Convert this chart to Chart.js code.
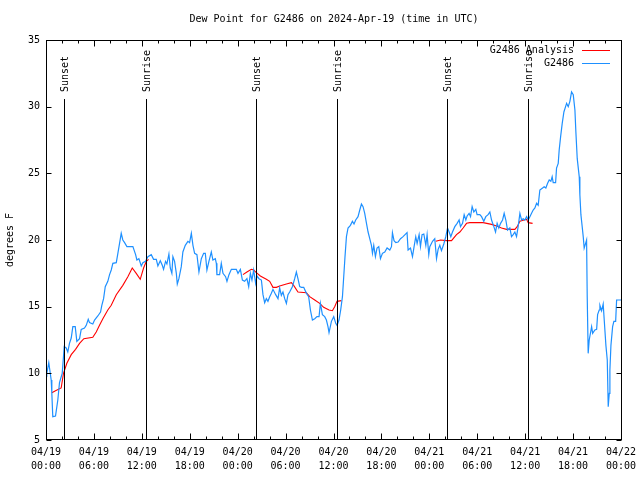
<!DOCTYPE html>
<html><head><meta charset="utf-8">
<script src="https://cdn.jsdelivr.net/npm/chart.js@4.4.1/dist/chart.umd.min.js"></script>
<style>html,body{margin:0;padding:0;background:#fff}</style>
</head><body>
<canvas id="c" width="640" height="480"></canvas>
<script>
// ---- data (hours since 2024-04-19 00:00 UTC) ----
const obsHours = [0.0,0.1,0.35,0.65,0.73,0.85,1.19,1.48,1.69,2.03,2.19,2.28,2.53,2.73,2.94,3.16,3.36,3.66,3.86,4.2,4.41,4.82,5.04,5.29,5.45,5.86,6.08,6.49,6.83,6.99,7.21,7.42,7.74,7.96,8.17,8.37,8.8,9.0,9.21,9.42,9.62,9.84,10.13,10.88,11.22,11.38,11.63,11.93,12.13,12.47,12.76,13.18,13.47,13.81,14.01,14.31,14.56,14.72,14.97,15.14,15.39,15.56,15.76,15.89,16.1,16.32,16.44,16.64,16.94,17.14,17.44,17.77,17.98,18.2,18.4,18.61,18.9,19.15,19.45,19.74,19.95,20.15,20.4,20.7,20.9,21.2,21.33,21.4,21.74,21.95,22.16,22.49,22.66,22.91,23.21,23.83,24.04,24.34,24.59,24.87,25.16,25.38,25.59,25.79,26.0,26.25,26.42,26.67,26.97,27.17,27.38,27.59,27.79,28.01,28.22,28.42,28.76,29.05,29.26,29.47,29.67,29.89,30.1,30.3,30.51,30.85,31.14,31.35,31.55,31.77,31.98,32.27,32.61,32.89,33.11,33.36,33.65,33.93,34.19,34.36,34.61,34.9,35.11,35.31,35.44,35.74,36.03,36.28,36.44,36.69,36.9,37.12,37.28,37.44,37.62,37.82,38.12,38.37,38.57,38.78,39.07,39.29,39.5,39.7,39.91,40.13,40.33,40.54,40.75,40.88,41.04,41.25,41.45,41.67,41.88,42.13,42.42,42.71,43.05,43.26,43.38,43.58,43.8,44.09,44.39,44.71,45.21,45.34,45.64,45.89,46.09,46.3,46.47,46.72,46.89,47.09,47.31,47.56,47.72,47.93,48.06,48.4,48.68,48.9,49.1,49.31,49.52,49.81,50.06,50.28,50.48,50.69,50.9,51.19,51.48,51.73,51.9,52.16,52.36,52.57,52.73,52.98,53.16,53.36,53.57,53.82,53.98,54.32,54.54,54.82,55.07,55.36,55.58,55.79,56.08,56.29,56.49,56.7,56.92,57.17,57.37,57.58,57.79,58.08,58.29,58.5,58.71,58.92,59.12,59.34,59.55,59.75,59.96,60.18,60.38,60.59,60.8,61.0,61.22,61.43,61.63,61.84,62.18,62.38,62.59,62.81,63.01,63.22,63.38,63.51,63.81,63.93,64.14,64.26,64.44,64.64,64.85,65.06,65.19,65.39,65.6,65.81,66.02,66.23,66.35,66.52,66.77,66.85,66.98,67.14,67.27,67.39,67.57,67.69,67.77,67.89,68.02,68.2,68.32,68.45,68.73,68.95,69.07,69.27,69.36,69.57,69.77,69.9,70.11,70.28,70.4,70.53,70.61,70.74,70.95,71.11,71.33,71.45,72.0];
const obsDewPoint = [10.2,10.0,10.8,9.5,8.5,6.75,6.8,8.0,9.3,10.0,11.25,12.0,11.9,11.6,12.25,12.65,13.5,13.5,12.4,12.6,13.3,13.4,13.6,14.05,13.8,13.7,14.0,14.3,14.6,15.1,15.6,16.5,16.9,17.4,17.75,18.25,18.3,19.0,19.75,20.5,20.0,19.8,19.5,19.5,18.9,18.5,18.6,18.05,18.3,18.4,18.75,18.9,18.55,18.55,18.05,18.45,18.1,17.8,18.4,18.2,18.95,17.9,17.5,18.75,18.4,17.5,16.7,17.1,18.0,19.1,19.6,19.9,19.8,20.5,19.6,19.0,18.9,17.6,18.6,19.0,19.0,17.75,18.4,19.1,18.5,18.6,18.25,17.4,17.4,18.25,17.5,17.25,16.9,17.4,17.8,17.8,17.5,17.8,17.0,16.9,17.1,16.5,17.5,17.0,17.75,16.75,17.3,17.1,17.0,15.9,15.3,15.6,15.4,15.75,16.0,16.3,15.9,15.6,16.4,15.85,16.1,15.6,15.25,15.9,16.1,16.5,17.1,17.6,17.1,16.5,16.45,16.45,16.0,15.75,14.75,14.0,14.1,14.25,14.25,15.25,14.4,14.25,14.0,13.5,13.05,13.9,14.25,13.75,13.6,14.0,14.75,15.75,17.25,18.75,20.25,20.9,21.1,21.4,21.2,21.5,21.75,22.25,22.7,22.5,22.0,21.25,20.6,20.1,19.6,19.0,19.6,18.75,19.4,19.5,18.6,19.0,19.1,19.4,19.25,19.5,20.55,19.95,19.8,19.85,20.1,20.25,20.55,19.25,19.4,18.75,19.5,20.25,19.75,20.4,19.5,20.4,20.45,19.6,20.4,18.9,19.5,19.9,20.1,18.6,19.3,19.6,19.2,19.7,20.25,20.9,20.6,20.25,20.6,21.0,21.25,21.5,21.0,21.25,21.9,21.5,21.8,22.0,21.75,22.5,22.1,22.3,21.9,21.9,21.75,21.4,21.75,21.9,22.1,21.5,21.0,20.6,21.25,20.9,21.25,21.5,22.0,21.5,20.75,20.9,20.25,20.4,20.6,20.25,21.0,22.0,21.5,21.6,21.5,21.75,21.5,21.75,22.0,22.25,22.4,22.75,22.6,23.75,23.9,24.0,23.9,24.25,24.5,24.4,24.75,24.3,24.3,25.4,25.75,26.75,27.75,28.75,29.6,30.0,30.25,30.0,30.4,31.1,30.9,29.75,28.1,26.1,24.75,23.4,21.9,21.0,20.25,19.4,19.75,20.0,15.75,11.5,12.5,13.1,13.5,13.0,13.25,13.3,14.4,14.75,15.1,14.7,15.2,14.0,12.1,11.0,7.5,8.5,10.25,12.1,13.5,13.9,13.9,15.5,15.5];
const anaHours = [0.73,1.19,1.9,2.19,2.61,3.16,3.7,4.2,4.74,5.86,6.29,6.7,7.12,7.74,8.17,8.8,9.62,10.25,10.8,11.3,11.8,12.22,12.56,12.84,18.0,24.66,25.16,25.71,26.0,26.34,26.84,27.59,28.01,28.42,28.85,29.26,30.1,30.73,31.01,31.55,32.61,33.02,33.65,34.27,34.77,35.44,35.86,36.15,36.44,36.99,42.0,48.81,49.4,50.15,50.78,51.4,51.82,52.23,52.66,53.07,54.74,55.79,56.42,57.04,57.67,58.71,59.0,59.34,60.18,60.38,60.93];
const anaDewPoint = [8.55,8.7,8.9,10.0,10.75,11.4,11.8,12.25,12.6,12.7,13.1,13.6,14.1,14.75,15.1,15.9,16.6,17.25,17.9,17.5,17.05,17.9,18.4,18.55,null,17.4,17.6,17.8,17.75,17.55,17.3,17.05,16.9,16.45,16.45,16.55,16.7,16.8,16.6,16.1,16.05,15.75,15.5,15.25,14.95,14.75,14.7,15.0,15.4,15.45,null,19.9,20.0,19.95,19.95,20.4,20.6,20.9,21.25,21.3,21.3,21.17,21.05,20.9,20.8,20.8,21.0,21.4,21.55,21.3,21.25];
const eventHours = [2.2, 12.5, 26.3, 36.45, 50.2, 60.35];
const eventLabels = ['Sunset','Sunrise','Sunset','Sunrise','Sunset','Sunrise'];
const xTickDates = ['04/19','04/19','04/19','04/19','04/20','04/20','04/20','04/20','04/21','04/21','04/21','04/21','04/22'];
const xTickTimes = ['00:00','06:00','12:00','18:00','00:00','06:00','12:00','18:00','00:00','06:00','12:00','18:00','00:00'];
const seriesNames = ['G2486 Analysis','G2486'];
const titleText = 'Dew Point for G2486 on 2024-Apr-19 (time in UTC)';
const yTitle = 'degrees F';

const FONT = '10px "DejaVu Sans Mono", "Liberation Mono", monospace';
const BLUE = '#1e90ff', RED = '#ff0000';

const toXY = (xs, ys) => xs.map((h, i) => ({x: h, y: ys[i]}));

const deco = {
  id: 'deco',
  afterDatasetsDraw(chart) {
    const {ctx, chartArea: a, scales: {x, y}} = chart;
    ctx.save();
    ctx.strokeStyle = '#000'; ctx.fillStyle = '#000'; ctx.lineWidth = 1;
    ctx.font = FONT;
    // sunrise / sunset markers
    eventHours.forEach((h, i) => {
      const px = Math.round(x.getPixelForValue(h)) + 0.5;
      ctx.beginPath(); ctx.moveTo(px, 99); ctx.lineTo(px, a.bottom); ctx.stroke();
      ctx.save();
      ctx.translate(px + 0.5, 92); ctx.rotate(-Math.PI / 2);
      ctx.textAlign = 'left'; ctx.textBaseline = 'middle';
      ctx.fillText(eventLabels[i], 0, 0);
      ctx.restore();
    });
    // border
    const L = Math.round(a.left) + 0.5, R = Math.round(a.right) + 0.5;
    const T = Math.round(a.top) + 0.5, B = Math.round(a.bottom) - 0.5;
    ctx.strokeRect(L, T, R - L, B - T);
    // ticks (inward, mirrored)
    ctx.beginPath();
    for (let h = 0; h <= 72; h += 2) {
      const px = Math.round(x.getPixelForValue(h)) + 0.5;
      const len = (h % 6 === 0) ? 6 : 3;
      ctx.moveTo(px, B); ctx.lineTo(px, B - len);
      ctx.moveTo(px, T); ctx.lineTo(px, T + len);
    }
    for (let v = 5; v <= 35; v += 5) {
      const py = Math.round(y.getPixelForValue(v)) + 0.5;
      ctx.moveTo(L, py); ctx.lineTo(L + 5, py);
      ctx.moveTo(R, py); ctx.lineTo(R - 5, py);
    }
    ctx.stroke();
    // title
    ctx.textAlign = 'center'; ctx.textBaseline = 'middle';
    ctx.fillText(titleText, 334, 19);
    // y title
    ctx.save(); ctx.translate(10, 240); ctx.rotate(-Math.PI / 2);
    ctx.fillText(yTitle, 0, 0); ctx.restore();
    // legend
    ctx.textAlign = 'right';
    const cols = [RED, BLUE];
    seriesNames.forEach((n, i) => {
      const ly = 50 + i * 13;
      ctx.fillStyle = '#000';
      ctx.fillText(n, 574, ly);
      ctx.strokeStyle = cols[i];
      ctx.beginPath(); ctx.moveTo(582, ly + 0.5); ctx.lineTo(610, ly + 0.5); ctx.stroke();
    });
    ctx.restore();
  }
};

new Chart(document.getElementById('c'), {
  type: 'line',
  data: {
    datasets: [
      {label: seriesNames[1], data: toXY(obsHours, obsDewPoint), borderColor: BLUE, borderWidth: 1.2, pointRadius: 0, tension: 0, fill: false},
      {label: seriesNames[0], data: toXY(anaHours, anaDewPoint), borderColor: RED, borderWidth: 1.1, pointRadius: 0, tension: 0, fill: false, spanGaps: false}
    ]
  },
  options: {
    responsive: false, animation: false, devicePixelRatio: 1,
    layout: {padding: {top: 40, right: 19, left: 0, bottom: 0}},
    plugins: {legend: {display: false}, title: {display: false}, tooltip: {enabled: false}},
    scales: {
      x: {
        type: 'linear', min: 0, max: 72,
        grid: {display: false, drawTicks: false}, border: {display: false},
        ticks: {
          stepSize: 6, autoSkip: false, maxRotation: 0, padding: 6,
          color: '#000', font: {family: '"DejaVu Sans Mono", monospace', size: 10, lineHeight: 1.35},
          callback: (v) => { const i = Math.round(v / 6); return [xTickDates[i], xTickTimes[i]]; }
        },
        afterFit: (s) => { s.height = 40; s.paddingRight = 0; s.paddingLeft = 0; }
      },
      y: {
        min: 5, max: 35,
        grid: {display: false, drawTicks: false}, border: {display: false},
        ticks: {stepSize: 5, padding: 6, color: '#000', font: {family: '"DejaVu Sans Mono", monospace', size: 10}},
        afterFit: (s) => { s.width = 46; }
      }
    }
  },
  plugins: [deco]
});
</script>
</body></html>
